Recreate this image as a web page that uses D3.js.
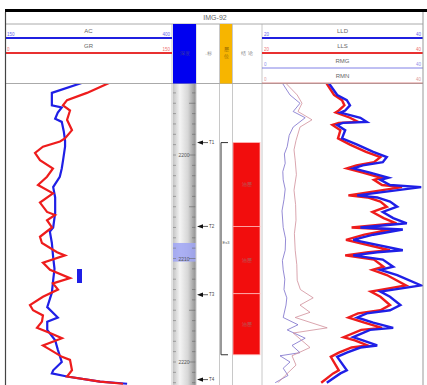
<!DOCTYPE html>
<html>
<head>
<meta charset="utf-8">
<script src="https://cdn.jsdelivr.net/npm/d3@7"></script>
<style>
  body { margin: 0; background: #fff; }
  svg { display: block; font-family: "Liberation Sans", Arial, sans-serif; }
</style>
</head>
<body>
<div id="chart"></div>
<script>
// well name and depth labels
const wellName = 'IMG-92';
const depthLabels = [2200, 2210, 2220];

// [depth, value] pairs
const acCurve = [[2193.0,268],[2194.0,221],[2195.2,221],[2195.4,236],[2195.9,230],[2196.5,226],[2196.8,236],
  [2197.7,239],[2198.6,241],[2199.2,241],[2200.5,238],[2201.3,236],[2202.1,233],[2203.1,223],[2204.1,226],
  [2205.6,226],[2207.0,223],[2207.4,218],[2208.5,221],[2209.9,223],[2211.0,225],[2212.1,223],[2213.3,221],
  [2214.7,214],[2215.7,230],[2216.1,214],[2216.9,214],[2217.9,226],[2218.8,230],[2220.0,236],[2220.8,223],
  [2221.1,221],[2221.4,244],[2221.9,294],[2222.1,335]];

const grCurve = [[2193.0,95.5],[2194.0,74.5],[2194.7,56.4],[2195.2,52.7],[2195.7,59.1],[2196.6,56.4],[2197.6,60.9],
  [2198.4,54.5],[2198.7,50.0],[2199.2,34.5],[2199.8,27.3],[2200.5,31.8],[2201.3,43.6],[2202.1,38.2],[2202.9,30.0],
  [2203.7,43.6],[2204.6,31.8],[2205.5,38.2],[2205.8,45.5],[2206.3,38.2],[2207.0,42.7],[2207.9,31.8],[2208.5,33.6],
  [2209.4,47.3],[2209.7,54.5],[2210.4,34.5],[2211.1,40.9],[2211.9,59.1],[2212.4,43.6],[2213.0,48.2],[2213.7,34.5],
  [2214.5,22.7],[2215.0,25.5],[2215.5,34.5],[2216.1,33.6],[2216.7,29.1],[2217.2,40.9],[2217.7,51.8],[2218.4,34.5],
  [2218.8,40.9],[2219.5,51.8],[2219.8,59.1],[2220.8,60.9],[2221.4,56.4],[2221.9,86.4],[2222.1,107.3]];

const lldCurve = [[2193.0,28.3],[2194.2,29.4],[2194.7,30.6],[2195.2,31.0],[2195.7,30.4],[2195.9,29.8],[2196.4,32.3],
  [2196.8,33.1],[2196.9,30.1],[2197.1,29.4],[2197.6,30.4],[2198.4,30.0],[2199.0,31.9],[2199.7,33.9],[2200.2,35.6],
  [2200.7,35.1],[2201.0,32.6],[2201.3,31.4],[2201.7,33.5],[2202.2,35.8],[2202.4,34.8],[2202.9,36.0],[2203.1,39.9],
  [2203.9,31.9],[2204.1,34.4],[2204.5,36.0],[2205.0,36.9],[2205.5,35.1],[2206.1,36.4],[2206.6,38.1],[2207.0,32.3],
  [2207.2,37.6],[2207.7,33.9],[2208.2,31.4],[2209.2,37.6],[2209.4,34.4],[2209.7,31.4],[2210.1,35.1],[2210.8,36.4],
  [2211.1,34.8],[2211.6,36.9],[2212.6,39.9],[2213.2,34.8],[2213.7,36.0],[2214.5,37.3],[2215.0,36.0],[2215.3,33.1],
  [2215.7,31.9],[2216.2,33.9],[2216.7,36.4],[2216.9,33.5],[2217.6,31.4],[2217.9,32.6],[2218.4,34.4],[2218.6,32.3],
  [2219.1,30.6],[2219.5,29.4],[2220.8,30.6],[2221.1,29.8],[2222.0,28.1]];

const llsCurve = [[2193.0,28.0],[2194.2,29.0],[2194.7,30.0],[2195.2,30.3],[2195.7,29.6],[2195.9,29.2],[2196.4,31.0],
  [2196.8,32.0],[2196.9,29.6],[2197.1,28.8],[2197.6,29.8],[2198.4,29.5],[2199.0,31.0],[2199.7,33.0],[2200.2,34.8],
  [2200.7,34.0],[2201.0,31.8],[2201.3,30.6],[2201.7,32.6],[2202.2,34.9],[2202.4,34.0],[2202.9,35.0],[2203.1,37.5],
  [2203.9,30.8],[2204.1,33.2],[2204.5,34.8],[2205.0,35.6],[2205.5,33.8],[2206.1,35.2],[2206.6,36.8],[2207.0,31.2],
  [2207.2,36.2],[2207.7,32.8],[2208.2,30.5],[2209.2,36.0],[2209.4,33.3],[2209.7,30.4],[2210.1,34.0],[2210.8,35.2],
  [2211.1,33.8],[2211.6,35.6],[2212.6,38.0],[2213.2,33.6],[2213.7,34.8],[2214.5,36.0],[2215.0,34.8],[2215.3,32.0],
  [2215.7,30.8],[2216.2,32.8],[2216.7,35.0],[2216.9,32.4],[2217.6,30.2],[2217.9,31.6],[2218.4,33.2],[2218.6,31.2],
  [2219.1,29.6],[2219.5,28.6],[2220.8,29.6],[2221.1,28.9],[2222.0,27.4]];

const rmgCurve = [[2193.0,5.0],[2194.2,7.0],[2195.0,9.5],[2195.8,7.8],[2196.4,10.8],[2197.3,7.8],[2198.1,6.8],
  [2199.2,6.3],[2199.9,5.6],[2200.8,5.8],[2201.6,5.2],[2202.4,5.3],[2203.3,5.8],[2204.3,5.5],[2205.4,5.0],
  [2207.0,5.3],[2208.1,5.9],[2209.2,5.8],[2210.2,5.1],[2211.1,5.3],[2212.0,5.7],[2213.0,5.5],[2213.8,6.2],
  [2214.5,6.0],[2215.7,5.3],[2216.4,9.0],[2216.9,6.3],[2217.7,10.8],[2218.4,7.5],[2219.1,9.5],[2219.4,4.5],
  [2220.0,7.0],[2220.6,5.3],[2221.3,6.5],[2222.0,3.3]];

const rmnCurve = [[2193.0,5.8],[2194.2,8.8],[2195.0,10.0],[2195.8,9.0],[2196.6,12.5],[2197.3,9.5],[2198.6,8.5],
  [2199.5,8.0],[2200.5,8.3],[2201.9,8.6],[2203.4,8.0],[2204.8,8.4],[2206.3,8.5],[2207.6,8.1],[2209.2,8.3],
  [2210.6,8.7],[2212.1,8.8],[2213.0,9.6],[2213.8,12.8],[2214.5,9.5],[2215.2,12.0],[2215.7,8.3],[2216.7,16.3],
  [2217.2,7.8],[2218.6,12.0],[2219.4,7.5],[2220.3,8.5],[2221.3,5.8],[2222.0,4.0]];

// marks, zones and the core interval
const markerDepths = [2198.8, 2206.9, 2213.5, 2221.7];
const markerNames = ['T1', 'T2', 'T3', 'T4'];
const zoneTops = [2198.8, 2206.9, 2213.4];
const zoneBottoms = [2206.9, 2213.4, 2219.3];
const zoneNames = ['油层', '油层', '油层'];
const coreInterval = [2208.5, 2210.3];

const W = 427, H = 385;
const yTop = 84, yBottom = 385;

const svg = d3.select('#chart').append('svg')
  .attr('width', W).attr('height', H);

svg.append('rect').attr('width', W).attr('height', H).attr('fill', '#fff');

const y = d3.scaleLinear().domain([2200 - 71 / 10.35, 2200 + 230 / 10.35]).range([yTop, yBottom]);
const xAC = d3.scaleLinear().domain([150, 400]).range([5, 170]);
const xGR = d3.scaleLinear().domain([0, 150]).range([5, 170]);
const xLL = d3.scaleLinear().domain([20, 40]).range([262, 422]);
const xRM = d3.scaleLinear().domain([0, 40]).range([262, 422]);

const defs = svg.append('defs');
const grad = defs.append('linearGradient').attr('id', 'depthGrad');
grad.append('stop').attr('offset', '0%').attr('stop-color', '#c4c4c4');
grad.append('stop').attr('offset', '30%').attr('stop-color', '#f4f4f4');
grad.append('stop').attr('offset', '65%').attr('stop-color', '#d6d6d6');
grad.append('stop').attr('offset', '100%').attr('stop-color', '#8e8e8e');

defs.append('clipPath').attr('id', 'clipL').append('rect')
  .attr('x', 6).attr('y', yTop).attr('width', 166).attr('height', yBottom - yTop);
defs.append('clipPath').attr('id', 'clipR').append('rect')
  .attr('x', 263).attr('y', yTop).attr('width', 160).attr('height', yBottom - yTop);

// depth column
svg.append('rect').attr('x', 173).attr('y', yTop).attr('width', 23).attr('height', yBottom - yTop)
  .attr('fill', 'url(#depthGrad)');
svg.append('rect').attr('x', 173).attr('y', y(coreInterval[0])).attr('width', 23)
  .attr('height', y(coreInterval[1]) - y(coreInterval[0]))
  .attr('fill', '#9fa5f5').attr('opacity', 0.85);

const minor = d3.range(2194, 2223, 1);
svg.append('g').selectAll('line').data(minor).join('line')
  .attr('x1', d => d % 5 === 0 ? 189 : 192).attr('x2', 196)
  .attr('y1', d => y(d)).attr('y2', d => y(d))
  .attr('stroke', '#666').attr('stroke-width', 0.6);
svg.append('g').selectAll('line').data(minor).join('line')
  .attr('x1', 173).attr('x2', 176)
  .attr('y1', d => y(d)).attr('y2', d => y(d))
  .attr('stroke', '#777').attr('stroke-width', 0.6);
svg.append('g').selectAll('text').data(depthLabels).join('text')
  .attr('x', 184).attr('y', d => y(d) + 2).attr('text-anchor', 'middle')
  .attr('font-size', 5).attr('fill', '#555').text(d => d);

// vertical grid lines
[172, 196, 219.5, 232.5, 262].forEach(x => {
  svg.append('line').attr('x1', x).attr('x2', x).attr('y1', 24).attr('y2', yBottom)
    .attr('stroke', '#c8c8c8').attr('stroke-width', 1);
});

// zones
svg.append('g').selectAll('rect').data(zoneTops).join('rect')
  .attr('x', 233).attr('width', 27)
  .attr('y', d => y(d)).attr('height', (d, i) => y(zoneBottoms[i]) - y(d))
  .attr('fill', '#f20d0d').attr('stroke', '#ffb3b3').attr('stroke-width', 0.8);
svg.append('g').selectAll('text').data(zoneTops).join('text')
  .attr('x', 246.5).attr('y', (d, i) => (y(d) + y(zoneBottoms[i])) / 2 + 2)
  .attr('text-anchor', 'middle').attr('font-size', 5).attr('fill', '#b36060')
  .text((d, i) => zoneNames[i]);

// bracket
const bTop = y(zoneTops[0]), bBot = y(zoneBottoms[2]);
svg.append('path')
  .attr('d', `M228,${bTop}H221V${bBot}H228`)
  .attr('fill', 'none').attr('stroke', '#333').attr('stroke-width', 1);
svg.append('text').attr('x', 222.5).attr('y', (bTop + bBot) / 2 - 5)
  .attr('font-size', 4).attr('fill', '#555').text('Es3');

// markers
const mk = svg.append('g').selectAll('g').data(markerDepths).join('g')
  .attr('transform', d => `translate(0,${y(d)})`);
mk.append('path').attr('d', 'M197,0L203,-2.2L203,2.2Z').attr('fill', '#111');
mk.append('line').attr('x1', 203).attr('x2', 208).attr('y1', 0).attr('y2', 0)
  .attr('stroke', '#333').attr('stroke-width', 0.8);
mk.append('text').attr('x', 209).attr('y', 1.6).attr('font-size', 4.5).attr('fill', '#444')
  .text((d, i) => markerNames[i]);

// curves
const lineOf = (xs) => d3.line().x(d => xs(d[1])).y(d => y(d[0]));

const left = svg.append('g').attr('clip-path', 'url(#clipL)');
left.append('path').datum(acCurve).attr('d', lineOf(xAC))
  .attr('fill', 'none').attr('stroke', '#1f1fe6').attr('stroke-width', 2.2);
left.append('path').datum(grCurve).attr('d', lineOf(xGR))
  .attr('fill', 'none').attr('stroke', '#ee1c1c').attr('stroke-width', 2.2);
left.append('rect').attr('x', 77).attr('y', 269).attr('width', 5).attr('height', 14).attr('fill', '#1f1fe6');

const right = svg.append('g').attr('clip-path', 'url(#clipR)');
right.append('path').datum(rmgCurve).attr('d', lineOf(xRM))
  .attr('fill', 'none').attr('stroke', '#7466c8').attr('stroke-width', 0.9).attr('opacity', 0.85);
right.append('path').datum(rmnCurve).attr('d', lineOf(xRM))
  .attr('fill', 'none').attr('stroke', '#cf8a96').attr('stroke-width', 0.9).attr('opacity', 0.85);
right.append('path').datum(llsCurve).attr('d', lineOf(xLL))
  .attr('fill', 'none').attr('stroke', '#ee1c1c').attr('stroke-width', 2.4);
right.append('path').datum(lldCurve).attr('d', lineOf(xLL))
  .attr('fill', 'none').attr('stroke', '#1f1fe6').attr('stroke-width', 2.4);

// header
svg.append('rect').attr('x', 5).attr('y', 9).attr('width', W - 5).attr('height', 3).attr('fill', '#000');
svg.append('text').attr('x', 215).attr('y', 20).attr('text-anchor', 'middle')
  .attr('font-size', 7).attr('fill', '#666').text(wellName);
[24, 83.5].forEach(v => {
  svg.append('line').attr('x1', 5).attr('x2', 423).attr('y1', v).attr('y2', v)
    .attr('stroke', '#aaa').attr('stroke-width', 1);
});

svg.append('rect').attr('x', 173).attr('y', 24).attr('width', 23).attr('height', 59.5).attr('fill', '#0000f0');
svg.append('text').attr('x', 184.5).attr('y', 55).attr('text-anchor', 'middle')
  .attr('font-size', 5).attr('fill', '#3a3aa0').text('深度');
svg.append('text').attr('x', 207.5).attr('y', 55).attr('text-anchor', 'middle')
  .attr('font-size', 4.5).attr('fill', '#888').text('→标');
svg.append('rect').attr('x', 220).attr('y', 24).attr('width', 12).attr('height', 59.5).attr('fill', '#f7b500');
svg.append('text').attr('x', 226).attr('y', 51).attr('text-anchor', 'middle')
  .attr('font-size', 4.5).attr('fill', '#8a6000').text('层');
svg.append('text').attr('x', 226).attr('y', 58).attr('text-anchor', 'middle')
  .attr('font-size', 4.5).attr('fill', '#8a6000').text('位');
svg.append('text').attr('x', 247).attr('y', 55).attr('text-anchor', 'middle')
  .attr('font-size', 5).attr('fill', '#777').text('结 论');

function curveHeader(x0, x1, ly, name, lo, hi, color, width) {
  svg.append('line').attr('x1', x0).attr('x2', x1).attr('y1', ly).attr('y2', ly)
    .attr('stroke', color).attr('stroke-width', width);
  svg.append('text').attr('x', (x0 + x1) / 2).attr('y', ly - 5).attr('text-anchor', 'middle')
    .attr('font-size', 6).attr('fill', '#666').text(name);
  svg.append('text').attr('x', x0 + 2).attr('y', ly - 2).attr('font-size', 4.5)
    .attr('fill', color).attr('opacity', 0.7).text(lo);
  svg.append('text').attr('x', x1 - 2).attr('y', ly - 2).attr('text-anchor', 'end').attr('font-size', 4.5)
    .attr('fill', color).attr('opacity', 0.7).text(hi);
}
curveHeader(5, 172, 38, 'AC', xAC.domain()[0], xAC.domain()[1], '#2020e0', 2);
curveHeader(5, 172, 53, 'GR', xGR.domain()[0], xGR.domain()[1], '#e83030', 2.2);
curveHeader(262, 423, 38, 'LLD', xLL.domain()[0], xLL.domain()[1], '#2020e0', 2);
curveHeader(262, 423, 53, 'LLS', xLL.domain()[0], xLL.domain()[1], '#e83030', 2.2);
curveHeader(262, 423, 68, 'RMG', xRM.domain()[0], xRM.domain()[1], '#6060e0', 0.8);
curveHeader(262, 423, 83, 'RMN', xRM.domain()[0], xRM.domain()[1], '#d07070', 0.8);

// frame
svg.append('line').attr('x1', 5.5).attr('x2', 5.5).attr('y1', 12).attr('y2', H)
  .attr('stroke', '#444').attr('stroke-width', 1.2);
svg.append('line').attr('x1', 423).attr('x2', 423).attr('y1', 12).attr('y2', H)
  .attr('stroke', '#999').attr('stroke-width', 1);
</script>
</body>
</html>
